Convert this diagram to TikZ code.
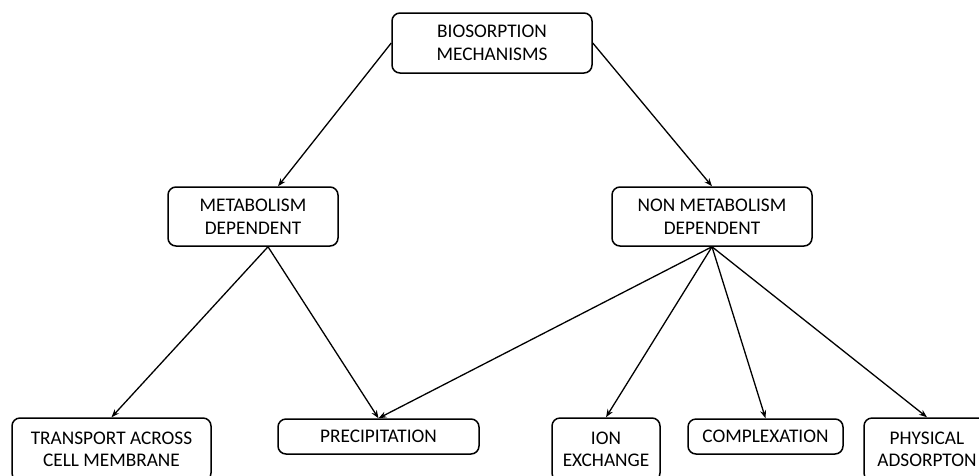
\documentclass[tikz,border=0pt]{standalone}
\usepackage{fontspec}
\setmainfont{Carlito}
\usetikzlibrary{arrows.meta}
\begin{document}
\begin{tikzpicture}[x=1pt,y=-1pt,
 box/.style={draw, rounded corners=8pt, line width=1.5pt, align=center, inner sep=0pt,
   font=\fontsize{19.3}{22.5}\selectfont},
 conn/.style={-{Stealth[length=8pt,width=6pt]}, line width=1.3pt}]
\useasboundingbox (0,0) rectangle (979,475);
\node[box, minimum width=200pt, minimum height=60pt] (top) at (492,43) {BIOSORPTION\\MECHANISMS};
\node[box, minimum width=170pt, minimum height=59pt] (met) at (253,216.5) {METABOLISM\\DEPENDENT};
\node[box, minimum width=200pt, minimum height=59pt] (non) at (712,216.5) {NON METABOLISM\\DEPENDENT};
\node[box, minimum width=199pt, minimum height=63pt] (tra) at (111.5,449.5) {TRANSPORT ACROSS\\CELL MEMBRANE};
\node[box, minimum width=201pt, minimum height=35pt] (pre) at (378.5,436.5) {PRECIPITATION};
\node[box, minimum width=108pt, minimum height=63pt] (ion) at (606,449.5) {ION\\EXCHANGE};
\node[box, minimum width=155pt, minimum height=35pt] (com) at (765.5,436.5) {COMPLEXATION};
\node[box, minimum width=126pt, minimum height=63pt] (phy) at (927,449.5) {PHYSICAL\\ADSORPTON};
\draw[conn] (top.west) -- ([xshift=25pt]met.north);
\draw[conn] (top.east) -- (non.north);
\draw[conn] ([xshift=15pt]met.south) -- (tra.north);
\draw[conn] ([xshift=15pt]met.south) -- (pre.north);
\draw[conn] (non.south) -- (pre.north);
\draw[conn] (non.south) -- (ion.north);
\draw[conn] (non.south) -- (com.north);
\draw[conn] (non.south) -- (phy.north);
\end{tikzpicture}
\end{document}
